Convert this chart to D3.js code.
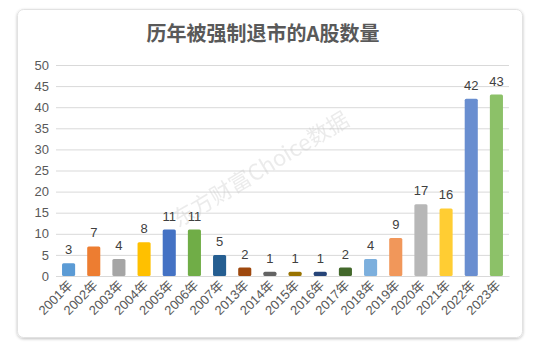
<!DOCTYPE html>
<html><head><meta charset="utf-8">
<script src="https://cdn.jsdelivr.net/npm/d3@7"></script>
<style>html,body{margin:0;padding:0;background:#fff;}svg{display:block;}</style>
</head><body>
<script>
const years = ["2001年","2002年","2003年","2004年","2005年","2006年","2007年","2013年","2014年","2015年","2016年","2017年","2018年","2019年","2020年","2021年","2022年","2023年"];
const values = [3,7,4,8,11,11,5,2,1,1,1,2,4,9,17,16,42,43];
const colors = ["#5B9BD5","#ED7D31","#A5A5A5","#FFC000","#4472C4","#70AD47","#255E91","#9E480E","#636363","#997300","#264478","#43682B","#7CAFDD","#F1975A","#B7B7B7","#FFCD33","#698ED0","#8CC168"];
const yTicks = [0,5,10,15,20,25,30,35,40,45,50];
const title = "历年被强制退市的A股数量";
const watermark = "东方财富Choice数据";

const W = 536, H = 352;
const svg = d3.select("body").append("svg").attr("width", W).attr("height", H);
const font = "'Liberation Sans', Arial, 'Noto Sans CJK SC', sans-serif";

// card
const defs = svg.append("defs");
const f = defs.append("filter").attr("id","sh").attr("x","-5%").attr("y","-5%").attr("width","110%").attr("height","110%");
f.append("feGaussianBlur").attr("in","SourceAlpha").attr("stdDeviation",1.5);
f.append("feOffset").attr("dx",0).attr("dy",1).attr("result","b");
f.append("feComponentTransfer").append("feFuncA").attr("type","linear").attr("slope",0.25);
const m = f.append("feMerge"); m.append("feMergeNode"); m.append("feMergeNode").attr("in","SourceGraphic");
svg.append("rect").attr("x",17.5).attr("y",9.5).attr("width",505).attr("height",328).attr("rx",6)
  .attr("fill","#fff").attr("stroke","#e2e2e2").attr("filter","url(#sh)");

svg.append("text").attr("x",263).attr("y",41).attr("text-anchor","middle")
  .attr("font-family","'Noto Sans CJK SC', sans-serif").attr("font-weight","bold")
  .attr("font-size",20).attr("fill","#595959").text(title);

const x = d3.scaleBand().domain(years).range([56,509]).paddingInner(0.48).paddingOuter(0.24);
const y = d3.scaleLinear().domain([0,50]).range([276,65]);

const yAxis = svg.append("g").attr("transform","translate(56,0)")
  .call(d3.axisLeft(y).tickValues(yTicks).tickSize(-453).tickPadding(7));
yAxis.select(".domain").remove();
yAxis.selectAll(".tick line").attr("stroke","#d9d9d9");
yAxis.selectAll(".tick text").attr("font-family",font).attr("font-size",13).attr("fill","#595959");

// watermark
svg.append("text").attr("transform","translate(178,228) rotate(-31)")
  .attr("font-family","'Noto Sans CJK SC', sans-serif").attr("font-size",22)
  .attr("fill","#c8c8c8").attr("opacity",0.35).text(watermark);

svg.append("g").selectAll("rect").data(values).join("rect")
  .attr("x",(d,i)=>x(years[i])).attr("width",x.bandwidth())
  .attr("y",d=>y(d)).attr("height",d=>y(0)-y(d))
  .attr("rx",1.5).attr("fill",(d,i)=>colors[i]);

svg.append("g").selectAll("text").data(values).join("text")
  .attr("x",(d,i)=>x(years[i])+x.bandwidth()/2).attr("y",d=>y(d)-9)
  .attr("text-anchor","middle").attr("font-family",font).attr("font-size",13)
  .attr("fill","#404040").text(d=>d);

const xAxis = svg.append("g").attr("transform","translate(0,276)")
  .call(d3.axisBottom(x).tickSize(0).tickPadding(0));
xAxis.select(".domain").attr("stroke","#d9d9d9");
xAxis.selectAll(".tick text").attr("font-family",font).attr("font-size",13).attr("fill","#595959")
  .attr("text-anchor","end").attr("dy",0)
  .attr("transform","translate(5,10) rotate(-45)");
</script>
</body></html>
